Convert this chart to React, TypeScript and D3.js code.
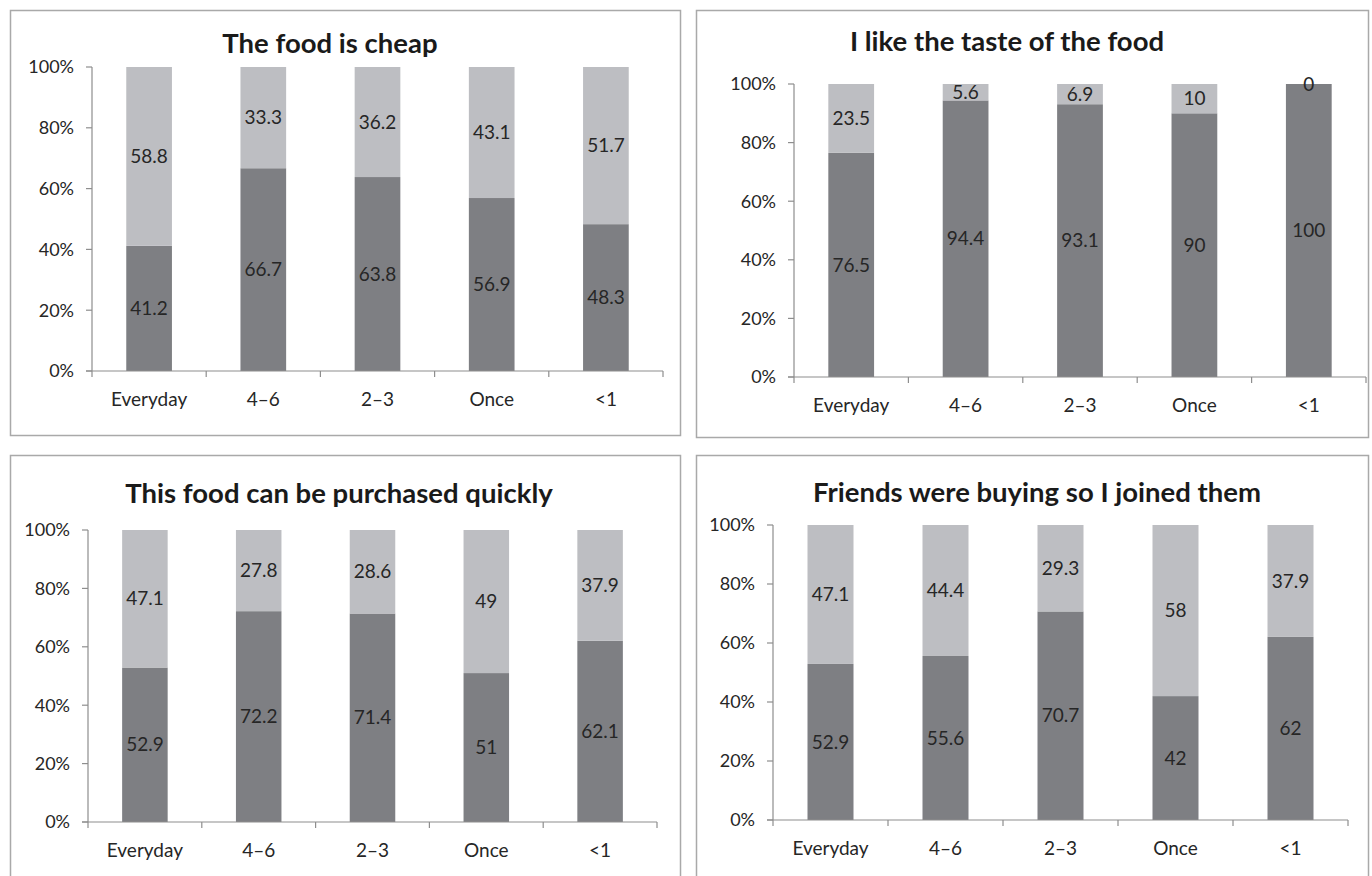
import React from "react";
import * as d3 from "d3";

const categories = ["Everyday", "4–6", "2–3", "Once", "<1"];
const yTicks = [0, 0.2, 0.4, 0.6, 0.8, 1];

const cheapYes = [41.2, 66.7, 63.8, 56.9, 48.3];
const cheapNo = [58.8, 33.3, 36.2, 43.1, 51.7];
const tasteYes = [76.5, 94.4, 93.1, 90, 100];
const tasteNo = [23.5, 5.6, 6.9, 10, 0];
const quickYes = [52.9, 72.2, 71.4, 51, 62.1];
const quickNo = [47.1, 27.8, 28.6, 49, 37.9];
const friendsYes = [52.9, 55.6, 70.7, 42, 62];
const friendsNo = [47.1, 44.4, 29.3, 58, 37.9];

const titles = [
  "The food is cheap",
  "I like the taste of the food",
  "This food can be purchased quickly",
  "Friends were buying so I joined them",
];

const DARK = "#7e7f83";
const LIGHT = "#bdbec2";
const TEXT = "#262626";
const AXIS = "#8e8e8e";
const FONT = "Lato, 'Open Sans', sans-serif";

type Layout = {
  box: [number, number, number, number];
  x0: number; x1: number; yTop: number; yBot: number;
  titleX: number; titleY: number;
};

const layouts: Layout[] = [
  { box: [10, 10, 680, 435], x0: 92, x1: 663, yTop: 67, yBot: 371, titleX: 330, titleY: 53 },
  { box: [696, 10, 1368, 437], x0: 794, x1: 1366, yTop: 84, yBot: 377, titleX: 1007, titleY: 51 },
  { box: [10, 455, 680, 890], x0: 88, x1: 657, yTop: 530, yBot: 822, titleX: 339, titleY: 503 },
  { box: [696, 455, 1368, 890], x0: 773, x1: 1348, yTop: 525, yBot: 820, titleX: 1037, titleY: 502 },
];

const seriesData: [number[], number[]][] = [
  [cheapYes, cheapNo],
  [tasteYes, tasteNo],
  [quickYes, quickNo],
  [friendsYes, friendsNo],
];

function Panel({ idx }: { idx: number }) {
  const L = layouts[idx];
  const [yes, no] = seriesData[idx];
  const rows = categories.map((c, i) => ({ cat: c, yes: yes[i], no: no[i] }));
  const stack = d3.stack<any>().keys(["yes", "no"]).offset(d3.stackOffsetExpand);
  const layers = stack(rows);
  const x = d3.scaleBand<string>().domain(categories).range([L.x0, L.x1]).paddingInner(0.6).paddingOuter(0.3);
  const y = d3.scaleLinear().domain([0, 1]).range([L.yBot, L.yTop]);
  const step = x.step();
  const [bx0, by0, bx1, by1] = L.box;
  return (
    <g>
      <rect x={bx0 + 0.5} y={by0 + 0.5} width={bx1 - bx0} height={by1 - by0} fill="#fff" stroke="#a9a9a9" strokeWidth={1.5} />
      <text x={L.titleX} y={L.titleY} textAnchor="middle" fontFamily={FONT} fontWeight={700} fontSize={27.5} fill="#1a1a1a">
        {titles[idx]}
      </text>
      {layers.map((layer, li) => (
        <g key={li}>
          {layer.map((d, i) => (
            <rect key={i} x={x(categories[i])} width={x.bandwidth()} y={y(d[1])} height={Math.max(0, y(d[0]) - y(d[1]))}
              fill={li === 0 ? DARK : LIGHT} />
          ))}
        </g>
      ))}
      {layers.map((layer, li) => (
        <g key={"l" + li}>
          {layer.map((d, i) => (
            <text key={i} x={(x(categories[i]) as number) + x.bandwidth() / 2} y={y((d[0] + d[1]) / 2)} dy="0.35em"
              textAnchor="middle" fontFamily={FONT} fontSize={19} fill={TEXT}>
              {li === 0 ? String(yes[i]) : String(no[i])}
            </text>
          ))}
        </g>
      ))}
      <line x1={L.x0} x2={L.x0} y1={L.yTop} y2={L.yBot} stroke={AXIS} strokeWidth={1.2} />
      <line x1={L.x0 - 6} x2={L.x1} y1={L.yBot} y2={L.yBot} stroke={AXIS} strokeWidth={1.2} />
      {yTicks.map((t) => (
        <g key={t}>
          <line x1={L.x0 - 6} x2={L.x0} y1={y(t)} y2={y(t)} stroke={AXIS} strokeWidth={1.2} />
          <text x={L.x0 - 18} y={y(t)} dy="0.35em" textAnchor="end" fontFamily={FONT} fontSize={18} fill={TEXT}>
            {d3.format(".0%")(t)}
          </text>
        </g>
      ))}
      {categories.map((c, i) => (
        <g key={c}>
          <line x1={L.x0 + step * i} x2={L.x0 + step * i} y1={L.yBot} y2={L.yBot + 6} stroke={AXIS} strokeWidth={1.2} />
          <text x={(x(c) as number) + x.bandwidth() / 2} y={L.yBot + 28} dy="0.35em" textAnchor="middle" fontFamily={FONT} fontSize={19} fill={TEXT}>
            {c}
          </text>
        </g>
      ))}
      <line x1={L.x1} x2={L.x1} y1={L.yBot} y2={L.yBot + 6} stroke={AXIS} strokeWidth={1.2} />
    </g>
  );
}

export default function App() {
  return (
    <svg width={1372} height={876} style={{ position: "absolute", left: 0, top: 0, background: "#fff" }}>
      <rect width={1372} height={876} fill="#fff" />
      {layouts.map((_, i) => (
        <Panel key={i} idx={i} />
      ))}
    </svg>
  );
}
